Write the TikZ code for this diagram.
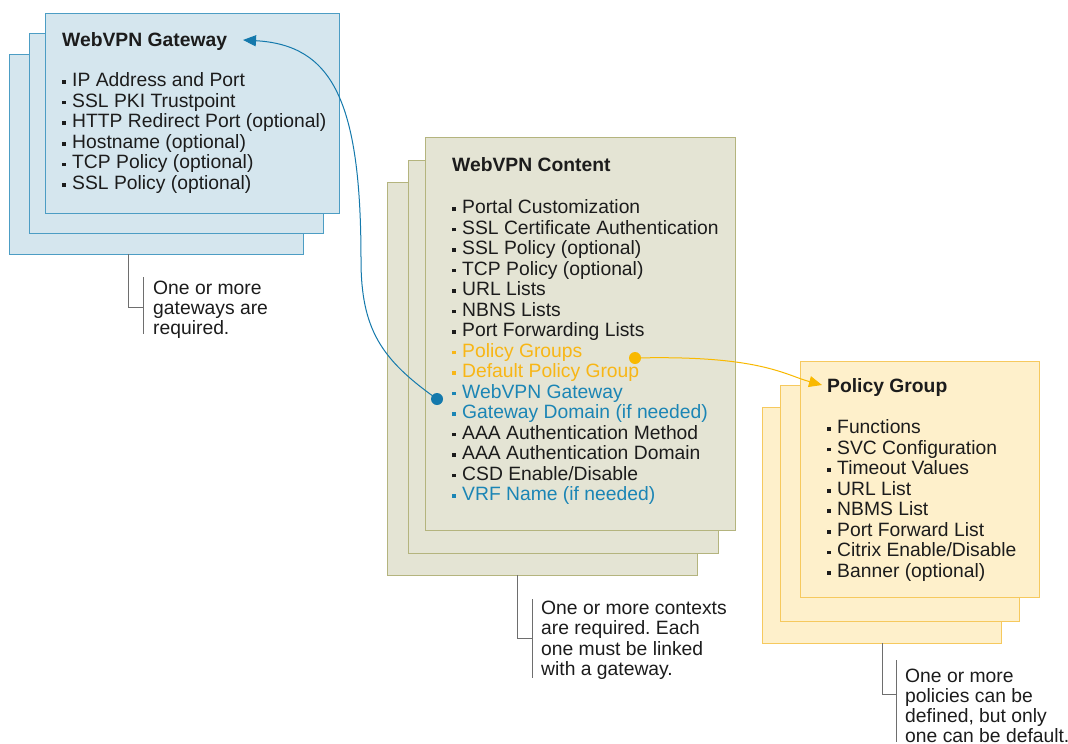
\documentclass[tikz,border=0pt]{standalone}
\usepackage{fontspec}
\setmainfont{Liberation Sans}
\usetikzlibrary{arrows.meta}
\frenchspacing
\definecolor{gwfill}{HTML}{D5E6EE}
\definecolor{gwline}{HTML}{4C9DC4}
\definecolor{ctfill}{HTML}{E4E4D4}
\definecolor{ctline}{HTML}{B4B47E}
\definecolor{pgfill}{HTML}{FEF0CB}
\definecolor{pgline}{HTML}{F6C95E}
\definecolor{cblue}{HTML}{1B85B5}
\definecolor{cyel}{HTML}{F8B616}
\definecolor{cgray}{HTML}{6E6E6E}
\definecolor{ctext}{HTML}{1C1C1C}
\definecolor{arrblue}{HTML}{1479AC}
\definecolor{arryel}{HTML}{F9B900}
\newcommand\mybul{\makebox[10pt][l]{\rule[2.7pt]{3.6pt}{3.6pt}}}
\begin{document}
\begin{tikzpicture}[x=1pt,y=-1pt,
  card/.style={rectangle, draw, line width=1.3pt, inner sep=0pt, anchor=north west},
  gw/.style={card, fill=gwfill, draw=gwline, minimum width=294pt, minimum height=200pt},
  ct/.style={card, fill=ctfill, draw=ctline, minimum width=310pt, minimum height=393pt},
  pg/.style={card, fill=pgfill, draw=pgline, minimum width=239pt, minimum height=236pt},
  ttl/.style={anchor=base west, inner sep=0pt, text=ctext, font=\fontsize{19.3}{20}\selectfont\bfseries},
  item/.style={anchor=base west, inner sep=0pt, text=ctext, font=\fontsize{19.3}{20}\selectfont},
  note/.style={anchor=base west, inner sep=0pt, text=ctext, font=\fontsize{19.3}{20}\selectfont},
  callout/.style={draw=cgray, line width=1pt},
  link/.style={line width=1pt},
]
\fill[white] (0,0) rectangle (1068,744);
\useasboundingbox (0,0) rectangle (1068,744);

% WebVPN Gateway stack
\node[gw] (gwback) at (9,54) {};
\node[gw] (gwmid) at (29,33) {};
\node[gw] (gwfront) at (45,13) {};
\node[ttl] (gwt) at (62,46.5) {WebVPN Gateway};
\foreach \t [count=\i from 0] in {IP Address and Port, SSL PKI Trustpoint, HTTP Redirect Port (optional), Hostname (optional), TCP Policy (optional), SSL Policy (optional)}
  \node[item] (gwi\i) at (62,{86.5+20.6*\i}) {\mybul\t};

% WebVPN Content stack
\node[ct] (ctback) at (387,182) {};
\node[ct] (ctmid) at (408,160) {};
\node[ct] (ctfront) at (425,137) {};
\node[ttl] (ctt) at (452,171.5) {WebVPN Content};
\foreach \t/\c [count=\i from 0] in {Portal Customization/ctext, SSL Certificate Authentication/ctext, SSL Policy (optional)/ctext, TCP Policy (optional)/ctext, URL Lists/ctext, NBNS Lists/ctext, Port Forwarding Lists/ctext, Policy Groups/cyel, Default Policy Group/cyel, WebVPN Gateway/cblue, Gateway Domain (if needed)/cblue, AAA Authentication Method/ctext, AAA Authentication Domain/ctext, {CSD Enable/Disable}/ctext, VRF Name (if needed)/cblue}
  \node[item, text=\c] (cti\i) at (452,{213.5+20.5*\i}) {\mybul\t};

% Policy Group stack
\node[pg] (pgback) at (762,407) {};
\node[pg] (pgmid) at (780,385) {};
\node[pg] (pgfront) at (800,361) {};
\node[ttl] (pgt) at (827,392.5) {Policy Group};
\foreach \t [count=\i from 0] in {Functions, SVC Configuration, Timeout Values, URL List, NBMS List, Port Forward List, {Citrix Enable/Disable}, Banner (optional)}
  \node[item] (pgi\i) at (827,{433.5+20.57*\i}) {\mybul\t};

% notes
\node[note] (gwn1) at (153,294.5) {One or more};
\node[note] (gwn2) at (153,314.5) {gateways are};
\node[note] (gwn3) at (153,334.5) {required.};
\node[note] (ctn1) at (541,614.5) {One or more contexts};
\node[note] (ctn2) at (541,634.8) {are required. Each};
\node[note] (ctn3) at (541,655.1) {one must be linked};
\node[note] (ctn4) at (541,675.4) {with a gateway.};
\node[note] (pgn1) at (905,682) {One or more};
\node[note] (pgn2) at (905,702) {policies can be};
\node[note] (pgn3) at (905,722) {defined, but only};
\node[note] (pgn4) at (905,742) {one can be default.};

% callout brackets
\coordinate (gwc0) at (128,254);
\coordinate (gwc1) at (143,307);
\coordinate (gwc2) at (143,277);
\coordinate (gwc3) at (143,334);
\draw[callout] (gwc0) |- (gwc1);
\draw[callout] (gwc2) -- (gwc3);
\coordinate (ctc0) at (517,575);
\coordinate (ctc1) at (532,638);
\coordinate (ctc2) at (532,599);
\coordinate (ctc3) at (532,678);
\draw[callout] (ctc0) |- (ctc1);
\draw[callout] (ctc2) -- (ctc3);
\coordinate (pgc0) at (882,643);
\coordinate (pgc1) at (896,694);
\coordinate (pgc2) at (896,660);
\coordinate (pgc3) at (896,742);
\draw[callout] (pgc0) |- (pgc1);
\draw[callout] (pgc2) -- (pgc3);

% links
\coordinate (bdot) at (437,399);
\coordinate (bmid) at (361,260);
\coordinate (btip) at (243,40);
\draw[link, draw=arrblue, -{Triangle[length=13pt,width=11pt]}]
  (bdot) .. controls (382,360) and (361,330) .. (bmid)
  .. controls (361,100) and (332,45) .. (btip);
\fill[arrblue] (bdot) circle (6);

\coordinate (ydot) at (635,358);
\coordinate (ytip) at (822,385);
\draw[link, draw=arryel, -{Triangle[length=13pt,width=11pt]}]
  (ydot) .. controls (760,355) and (785,375) .. (ytip);
\fill[arryel] (ydot) circle (6);
\end{tikzpicture}
\end{document}
